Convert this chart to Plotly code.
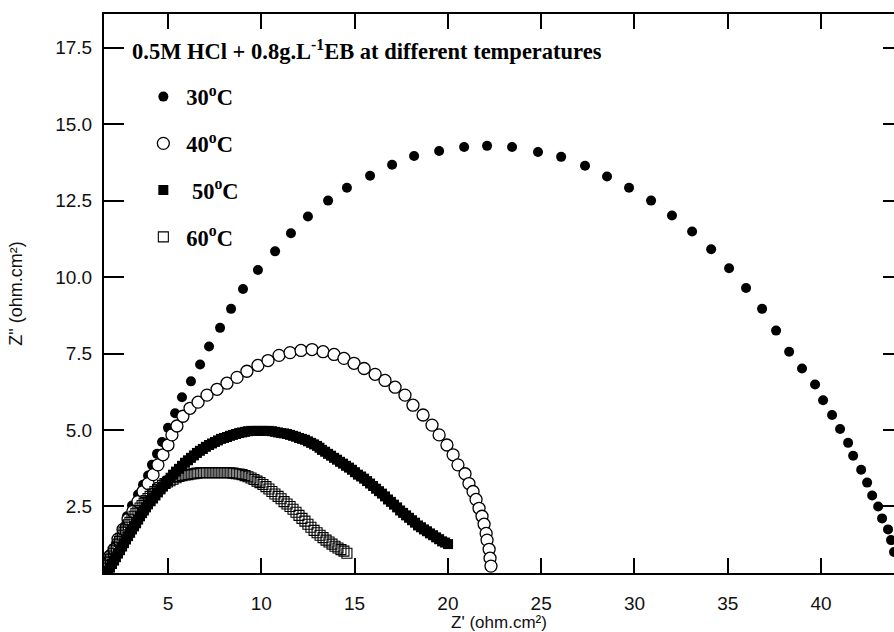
import plotly.graph_objects as go

# ---- data (Z' , Z'' in ohm.cm^2) ----
zre_30 = [1.78, 2.00, 2.27, 2.53, 2.80, 3.07, 3.39, 3.66, 3.93, 4.14, 4.41, 4.68, 5.00, 5.38, 5.75,
          6.23, 6.72, 7.20, 7.79, 8.38, 9.02, 9.82, 10.74, 11.59, 12.50, 13.58, 14.59, 15.83, 17.01,
          18.19, 19.53, 20.87, 22.10, 23.44, 24.83, 26.07, 27.35, 28.53, 29.71, 30.89, 32.01, 33.09,
          34.11, 35.07, 35.98, 36.84, 37.59, 38.29, 38.98, 39.68, 40.11, 40.59, 41.02, 41.45, 41.72,
          42.15, 42.47, 42.74, 43.06, 43.27, 43.59, 43.75, 43.91]
zim_30 = [0.68, 1.01, 1.36, 1.75, 2.18, 2.53, 2.89, 3.21, 3.51, 3.86, 4.22, 4.61, 5.07, 5.55, 6.07,
          6.59, 7.14, 7.73, 8.34, 8.96, 9.61, 10.23, 10.84, 11.43, 11.98, 12.50, 12.92, 13.31, 13.67,
          13.96, 14.12, 14.25, 14.29, 14.25, 14.09, 13.93, 13.64, 13.29, 12.92, 12.50, 12.01, 11.49,
          10.91, 10.29, 9.64, 8.96, 8.25, 7.56, 7.01, 6.49, 5.97, 5.49, 5.03, 4.58, 4.16,
          3.70, 3.28, 2.86, 2.50, 2.11, 1.75, 1.40, 1.01]

zre_40 = [1.73, 1.89, 2.11, 2.32, 2.59, 2.86, 3.12, 3.39, 3.66, 3.93, 4.20, 4.46, 4.73, 5.00, 5.21,
          5.48, 5.80, 6.18, 6.61, 7.09, 7.63, 8.16, 8.70, 9.23, 9.82, 10.36, 10.95, 11.54, 12.13,
          12.72, 13.31, 13.90, 14.43, 14.97, 15.51, 16.10, 16.63, 17.17, 17.70, 18.13, 18.67, 19.15,
          19.53, 19.95, 20.28, 20.54, 20.92, 21.13, 21.35, 21.51, 21.67, 21.83, 21.94, 22.05, 22.10,
          22.21, 22.26, 22.31]
zim_40 = [0.68, 0.88, 1.10, 1.43, 1.75, 2.08, 2.34, 2.66, 2.99, 3.25, 3.54, 3.86, 4.19, 4.51, 4.84,
          5.13, 5.45, 5.71, 5.91, 6.14, 6.33, 6.53, 6.72, 6.92, 7.11, 7.27, 7.44, 7.53, 7.60,
          7.63, 7.56, 7.47, 7.34, 7.18, 7.01, 6.82, 6.62, 6.40, 6.14, 5.81, 5.49, 5.16,
          4.84, 4.51, 4.19, 3.86, 3.57, 3.25, 2.99, 2.73, 2.44, 2.18, 1.92, 1.62, 1.40,
          1.10, 0.81, 0.55]

zre_50 = [1.78, 1.89, 2.00, 2.11, 2.21, 2.32, 2.43, 2.54, 2.64, 2.75,
          2.86, 2.97, 3.07, 3.18, 3.29, 3.40, 3.50, 3.61, 3.71, 3.82,
          3.93, 4.07, 4.20, 4.33, 4.46, 4.60, 4.73, 4.87, 5.00, 5.14,
          5.27, 5.43, 5.59, 5.75, 5.91, 6.07, 6.23, 6.39, 6.55, 6.71,
          6.87, 7.03, 7.20, 7.36, 7.52, 7.68, 7.84, 8.00, 8.16, 8.32,
          8.48, 8.65, 8.81, 8.97, 9.13, 9.29, 9.45, 9.61, 9.77, 9.93,
          10.09, 10.25, 10.41, 10.57, 10.74, 10.90, 11.06, 11.22, 11.38, 11.54,
          11.70, 11.86, 12.02, 12.18, 12.34, 12.50, 12.67, 12.83, 12.99, 13.12,
          13.25, 13.42, 13.58, 13.74, 13.90, 14.06, 14.22, 14.38, 14.54, 14.70,
          14.86, 15.02, 15.18, 15.35, 15.51, 15.67, 15.83, 15.99, 16.15, 16.31,
          16.47, 16.63, 16.79, 16.95, 17.11, 17.28, 17.44, 17.60, 17.76, 17.92,
          18.08, 18.24, 18.40, 18.56, 18.72, 18.88, 19.04, 19.21, 19.37, 19.53,
          19.69, 19.85, 20.01]
zim_50 = [0.39, 0.50, 0.62, 0.73, 0.84, 0.96, 1.07, 1.19, 1.30, 1.42,
          1.53, 1.64, 1.75, 1.85, 1.95, 2.07, 2.18, 2.28, 2.37, 2.47,
          2.57, 2.67, 2.76, 2.86, 2.96, 3.06, 3.15, 3.25, 3.34, 3.44,
          3.54, 3.64, 3.73, 3.83, 3.93, 4.01, 4.09, 4.17, 4.25, 4.32,
          4.38, 4.45, 4.51, 4.56, 4.61, 4.66, 4.71, 4.74, 4.77, 4.81,
          4.84, 4.87, 4.90, 4.92, 4.94, 4.96, 4.97, 4.97, 4.97, 4.97,
          4.97, 4.97, 4.97, 4.96, 4.94, 4.92, 4.90, 4.89, 4.87, 4.84,
          4.81, 4.78, 4.74, 4.71, 4.68, 4.63, 4.58, 4.53, 4.48, 4.42,
          4.35, 4.29, 4.22, 4.16, 4.09, 4.03, 3.96, 3.90, 3.83, 3.77,
          3.70, 3.62, 3.54, 3.48, 3.41, 3.33, 3.25, 3.17, 3.08, 3.00,
          2.92, 2.83, 2.73, 2.65, 2.56, 2.47, 2.37, 2.29, 2.21, 2.13,
          2.05, 1.97, 1.88, 1.82, 1.75, 1.69, 1.62, 1.56, 1.49, 1.43,
          1.36, 1.32, 1.27]

zre_60 = [1.68, 1.76, 1.84, 1.92, 2.00, 2.08, 2.16, 2.24, 2.32, 2.40,
          2.48, 2.56, 2.64, 2.72, 2.80, 2.88, 2.96, 3.07, 3.18, 3.28,
          3.39, 3.50, 3.61, 3.72, 3.82, 3.93, 4.04, 4.17, 4.30, 4.44,
          4.57, 4.70, 4.84, 4.97, 5.11, 5.27, 5.43, 5.59, 5.75, 5.91,
          6.07, 6.23, 6.39, 6.55, 6.72, 6.88, 7.04, 7.20, 7.36, 7.52,
          7.68, 7.84, 8.00, 8.16, 8.32, 8.48, 8.65, 8.81, 8.97, 9.13,
          9.29, 9.45, 9.61, 9.77, 9.93, 10.09, 10.25, 10.41, 10.57, 10.73,
          10.90, 11.06, 11.22, 11.38, 11.54, 11.70, 11.86, 12.02, 12.18, 12.34,
          12.50, 12.66, 12.83, 12.99, 13.15, 13.31, 13.47, 13.63, 13.79, 13.95,
          14.11, 14.27, 14.43, 14.59]
zim_60 = [0.49, 0.58, 0.68, 0.78, 0.88, 0.97, 1.07, 1.17, 1.27, 1.36,
          1.46, 1.56, 1.66, 1.74, 1.82, 1.90, 1.98, 2.08, 2.18, 2.28,
          2.37, 2.45, 2.53, 2.61, 2.69, 2.76, 2.83, 2.91, 2.99, 3.06,
          3.12, 3.19, 3.25, 3.30, 3.34, 3.39, 3.44, 3.48, 3.51, 3.53,
          3.54, 3.56, 3.57, 3.59, 3.60, 3.60, 3.60, 3.60, 3.60, 3.60,
          3.60, 3.60, 3.60, 3.60, 3.60, 3.59, 3.57, 3.56, 3.54, 3.51,
          3.47, 3.43, 3.38, 3.33, 3.28, 3.22, 3.15, 3.07, 2.99, 2.91,
          2.83, 2.75, 2.66, 2.58, 2.50, 2.41, 2.31, 2.21, 2.11, 2.02,
          1.92, 1.82, 1.72, 1.64, 1.56, 1.48, 1.40, 1.34, 1.27, 1.20,
          1.14, 1.09, 1.04, 0.97]

x_ticks = [5, 10, 15, 20, 25, 30, 35, 40]
x_ticktext = ["5", "10", "15", "20", "25", "30", "35", "40"]
y_ticks = [2.5, 5.0, 7.5, 10.0, 12.5, 15.0, 17.5]
y_ticktext = ["2.5", "5.0", "7.5", "10.0", "12.5", "15.0", "17.5"]

series_names = ["<b>30<sup>o</sup>C</b>", "<b>40<sup>o</sup>C</b>",
                "<b>\u00a050<sup>o</sup>C</b>", "<b>60<sup>o</sup>C</b>"]
title_text = "<b>0.5M HCl + 0.8g.L<sup>-1</sup>EB at different temperatures</b>"

serif = "Liberation Serif, Times New Roman, serif"
sans = "Liberation Sans, Arial, sans-serif"

fig = go.Figure()
fig.add_trace(go.Scatter(x=zre_30, y=zim_30, mode="markers", name=series_names[0], legendgroup="a",
                         marker=dict(symbol="circle", size=10, color="black", line=dict(width=0))))
fig.add_trace(go.Scatter(x=zre_40, y=zim_40, mode="markers", name=series_names[1], legendgroup="b",
                         marker=dict(symbol="circle", size=12, color="white",
                                     line=dict(width=1.3, color="black"))))
fig.add_trace(go.Scatter(x=zre_50, y=zim_50, mode="markers", name=series_names[2], legendgroup="c",
                         marker=dict(symbol="square", size=10, color="black", line=dict(width=0))))
fig.add_trace(go.Scatter(x=zre_60, y=zim_60, mode="markers", name=series_names[3], legendgroup="d",
                         marker=dict(symbol="square-open", size=10, color="black",
                                     line=dict(width=1.1))))
# empty helper trace so the right-hand tick axis is drawn
fig.add_trace(go.Scatter(x=[], y=[], yaxis="y2", showlegend=False, hoverinfo="skip"))

fig.update_layout(
    width=894, height=632,
    margin=dict(l=104, r=0, t=14, b=55),
    paper_bgcolor="white", plot_bgcolor="white",
    showlegend=True,
    legend=dict(x=0.046, y=0.89, xanchor="left", yanchor="top",
                font=dict(family=serif, size=22.5, color="black"),
                bgcolor="rgba(0,0,0,0)", tracegroupgap=14.5, itemwidth=36),
    xaxis=dict(range=[1.57, 43.91], tickmode="array", tickvals=x_ticks, ticktext=x_ticktext,
               ticks="inside", ticklen=15, tickwidth=2, tickcolor="black",
               showline=True, linewidth=2, linecolor="black", mirror="ticks",
               showgrid=False, zeroline=False,
               tickfont=dict(family=sans, size=19, color="#111"),
               ticklabelstandoff=12,
               title=dict(text="Z' (ohm.cm²)", font=dict(family=sans, size=17, color="#111"),
                          standoff=6)),
    yaxis=dict(range=[0.325, 18.6], tickmode="array", tickvals=y_ticks, ticktext=y_ticktext,
               ticks="inside", ticklen=20, tickwidth=2, tickcolor="black",
               showline=True, linewidth=2, linecolor="black", mirror=False,
               showgrid=False, zeroline=False,
               tickfont=dict(family=sans, size=19, color="#111"),
               ticklabelstandoff=6,
               title=dict(text="Z\" (ohm.cm²)", font=dict(family=sans, size=18, color="#111"),
                          standoff=28)),
    yaxis2=dict(range=[0.325, 18.6], overlaying="y", side="right", anchor="x",
                tickmode="array", tickvals=y_ticks, ticks="inside", ticklen=11, tickwidth=2,
                tickcolor="black", showticklabels=False, showline=False, showgrid=False,
                zeroline=False),
    annotations=[dict(text=title_text, xref="paper", yref="paper", x=0.033, y=0.936,
                      xanchor="left", yanchor="middle", showarrow=False,
                      font=dict(family=serif, size=22.5, color="black"))],
)

fig.write_html("out.html")
